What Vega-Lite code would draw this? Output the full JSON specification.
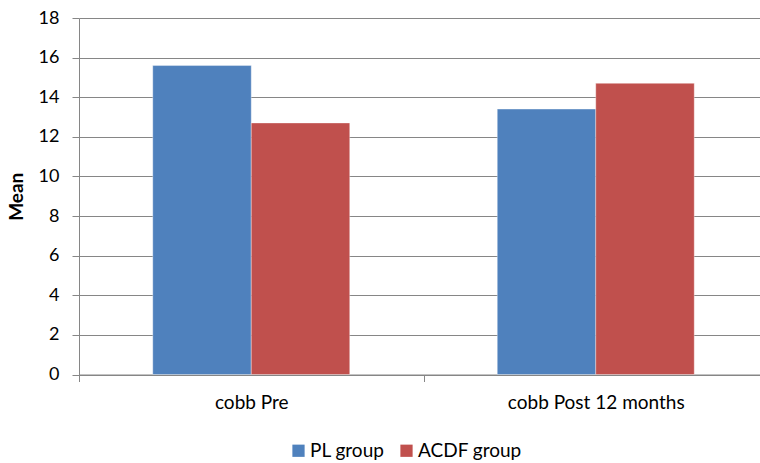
{
  "$schema": "https://vega.github.io/schema/vega-lite/v6.json",
  "autosize": {"type": "none"},
  "padding": {"left": 79, "top": 18, "right": 0, "bottom": 88.5},
  "width": 681,
  "height": 356.5,
  "background": "white",
  "config": {
    "font": "Lato",
    "view": {"stroke": null},
    "axis": {"labelFont": "Lato", "titleFont": "Lato", "labelColor": "#000000", "titleColor": "#000000"}
  },
  "data": {
    "values": [
      {"category": "cobb Pre", "group": "PL group", "mean": 15.6},
      {"category": "cobb Pre", "group": "ACDF group", "mean": 12.7},
      {"category": "cobb Post 12 months", "group": "PL group", "mean": 13.4},
      {"category": "cobb Post 12 months", "group": "ACDF group", "mean": 14.7}
    ]
  },
  "mark": {"type": "bar", "stroke": "#ffffff", "strokeOpacity": 0.35, "strokeWidth": 1},
  "encoding": {
    "x": {
      "field": "category",
      "type": "nominal",
      "sort": ["cobb Pre", "cobb Post 12 months"],
      "scale": {"range": [0, 689], "paddingInner": 0, "paddingOuter": 0},
      "axis": {
        "title": null,
        "labelAngle": 0,
        "labelFontSize": 19,
        "labelPadding": 12,
        "domainColor": "#868686",
        "tickColor": "#868686",
        "tickSize": 7,
        "tickBand": "extent",
        "grid": false
      }
    },
    "xOffset": {
      "field": "group",
      "type": "nominal",
      "sort": ["PL group", "ACDF group"],
      "scale": {"paddingInner": 0, "paddingOuter": 0.749}
    },
    "y": {
      "field": "mean",
      "type": "quantitative",
      "scale": {"domain": [0, 18], "nice": false},
      "axis": {
        "title": "Mean",
        "titleFontSize": 19,
        "titleFontWeight": "bold",
        "titlePadding": 12,
        "values": [0, 2, 4, 6, 8, 10, 12, 14, 16, 18],
        "labelFontSize": 18,
        "labelPadding": 13,
        "tickSize": 7,
        "tickColor": "#868686",
        "domainColor": "#868686",
        "grid": true,
        "gridColor": "#868686",
        "gridWidth": 1
      }
    },
    "color": {
      "field": "group",
      "type": "nominal",
      "sort": ["PL group", "ACDF group"],
      "scale": {"domain": ["PL group", "ACDF group"], "range": ["#4F81BD", "#C0504D"]},
      "legend": {
        "title": null,
        "orient": "none",
        "direction": "horizontal",
        "legendX": 210,
        "legendY": 423,
        "symbolType": "square",
        "symbolSize": 150,
        "symbolStrokeWidth": 0,
        "labelFontSize": 19,
        "labelFont": "Lato",
        "labelColor": "#000000",
        "labelOffset": 2,
        "columnPadding": 12
      }
    }
  }
}
